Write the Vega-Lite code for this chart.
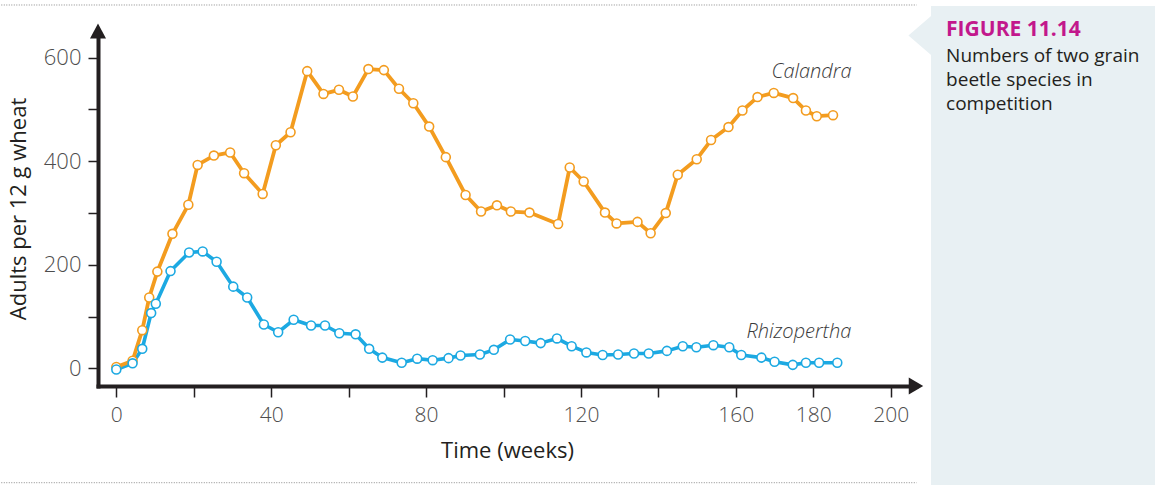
{
  "$schema": "https://vega.github.io/schema/vega-lite/v6.json",
  "width": 818,
  "height": 355,
  "autosize": {"type": "none"},
  "padding": {"left": 98, "top": 31, "right": 239, "bottom": 99},
  "background": "white",
  "config": {"view": {"stroke": null}, "font": "Open Sans"},
  "datasets": {
    "beetles": [
      {"species": "Calandra", "week": 0, "adults": 3},
      {"species": "Calandra", "week": 4.2, "adults": 15},
      {"species": "Calandra", "week": 6.7, "adults": 74},
      {"species": "Calandra", "week": 8.5, "adults": 137},
      {"species": "Calandra", "week": 10.6, "adults": 187},
      {"species": "Calandra", "week": 14.5, "adults": 260},
      {"species": "Calandra", "week": 18.6, "adults": 316},
      {"species": "Calandra", "week": 21.0, "adults": 393},
      {"species": "Calandra", "week": 25.2, "adults": 411},
      {"species": "Calandra", "week": 29.4, "adults": 417},
      {"species": "Calandra", "week": 33.0, "adults": 377},
      {"species": "Calandra", "week": 37.8, "adults": 337},
      {"species": "Calandra", "week": 41.2, "adults": 431},
      {"species": "Calandra", "week": 45.0, "adults": 456},
      {"species": "Calandra", "week": 49.3, "adults": 574},
      {"species": "Calandra", "week": 53.5, "adults": 530},
      {"species": "Calandra", "week": 57.5, "adults": 538},
      {"species": "Calandra", "week": 61.1, "adults": 525},
      {"species": "Calandra", "week": 65.1, "adults": 578},
      {"species": "Calandra", "week": 69.1, "adults": 576},
      {"species": "Calandra", "week": 73.0, "adults": 540},
      {"species": "Calandra", "week": 76.7, "adults": 512},
      {"species": "Calandra", "week": 80.8, "adults": 467},
      {"species": "Calandra", "week": 85.1, "adults": 408},
      {"species": "Calandra", "week": 90.2, "adults": 335},
      {"species": "Calandra", "week": 94.2, "adults": 303},
      {"species": "Calandra", "week": 98.3, "adults": 315},
      {"species": "Calandra", "week": 101.9, "adults": 303},
      {"species": "Calandra", "week": 106.7, "adults": 301},
      {"species": "Calandra", "week": 114.1, "adults": 279},
      {"species": "Calandra", "week": 117.1, "adults": 388},
      {"species": "Calandra", "week": 120.7, "adults": 361},
      {"species": "Calandra", "week": 126.2, "adults": 301},
      {"species": "Calandra", "week": 129.2, "adults": 280},
      {"species": "Calandra", "week": 134.6, "adults": 283},
      {"species": "Calandra", "week": 138.0, "adults": 261},
      {"species": "Calandra", "week": 141.9, "adults": 300},
      {"species": "Calandra", "week": 145.0, "adults": 374},
      {"species": "Calandra", "week": 149.9, "adults": 404},
      {"species": "Calandra", "week": 153.6, "adults": 441},
      {"species": "Calandra", "week": 158.1, "adults": 466},
      {"species": "Calandra", "week": 161.7, "adults": 498},
      {"species": "Calandra", "week": 165.6, "adults": 524},
      {"species": "Calandra", "week": 169.8, "adults": 532},
      {"species": "Calandra", "week": 174.8, "adults": 522},
      {"species": "Calandra", "week": 178.1, "adults": 498},
      {"species": "Calandra", "week": 180.9, "adults": 487},
      {"species": "Calandra", "week": 185.1, "adults": 489},
      {"species": "Rhizopertha", "week": 0, "adults": -2},
      {"species": "Rhizopertha", "week": 4.2, "adults": 10},
      {"species": "Rhizopertha", "week": 6.7, "adults": 38},
      {"species": "Rhizopertha", "week": 9.0, "adults": 107},
      {"species": "Rhizopertha", "week": 10.2, "adults": 125},
      {"species": "Rhizopertha", "week": 14.0, "adults": 188},
      {"species": "Rhizopertha", "week": 18.8, "adults": 224},
      {"species": "Rhizopertha", "week": 22.3, "adults": 226},
      {"species": "Rhizopertha", "week": 25.9, "adults": 206},
      {"species": "Rhizopertha", "week": 30.2, "adults": 158},
      {"species": "Rhizopertha", "week": 33.8, "adults": 137},
      {"species": "Rhizopertha", "week": 38.1, "adults": 85},
      {"species": "Rhizopertha", "week": 41.8, "adults": 70},
      {"species": "Rhizopertha", "week": 45.8, "adults": 94},
      {"species": "Rhizopertha", "week": 50.3, "adults": 83},
      {"species": "Rhizopertha", "week": 53.9, "adults": 83},
      {"species": "Rhizopertha", "week": 57.6, "adults": 68},
      {"species": "Rhizopertha", "week": 61.8, "adults": 66},
      {"species": "Rhizopertha", "week": 65.3, "adults": 38},
      {"species": "Rhizopertha", "week": 68.7, "adults": 21},
      {"species": "Rhizopertha", "week": 73.7, "adults": 11},
      {"species": "Rhizopertha", "week": 77.7, "adults": 19},
      {"species": "Rhizopertha", "week": 81.7, "adults": 16},
      {"species": "Rhizopertha", "week": 85.8, "adults": 20},
      {"species": "Rhizopertha", "week": 88.9, "adults": 25},
      {"species": "Rhizopertha", "week": 93.9, "adults": 27},
      {"species": "Rhizopertha", "week": 97.5, "adults": 36},
      {"species": "Rhizopertha", "week": 101.7, "adults": 56},
      {"species": "Rhizopertha", "week": 105.6, "adults": 53},
      {"species": "Rhizopertha", "week": 109.6, "adults": 49},
      {"species": "Rhizopertha", "week": 113.8, "adults": 58},
      {"species": "Rhizopertha", "week": 117.6, "adults": 43},
      {"species": "Rhizopertha", "week": 121.4, "adults": 31},
      {"species": "Rhizopertha", "week": 125.6, "adults": 26},
      {"species": "Rhizopertha", "week": 129.6, "adults": 27},
      {"species": "Rhizopertha", "week": 133.7, "adults": 29},
      {"species": "Rhizopertha", "week": 137.5, "adults": 29},
      {"species": "Rhizopertha", "week": 142.2, "adults": 34},
      {"species": "Rhizopertha", "week": 146.3, "adults": 43},
      {"species": "Rhizopertha", "week": 149.8, "adults": 41},
      {"species": "Rhizopertha", "week": 154.2, "adults": 45},
      {"species": "Rhizopertha", "week": 158.3, "adults": 41},
      {"species": "Rhizopertha", "week": 161.4, "adults": 26},
      {"species": "Rhizopertha", "week": 166.6, "adults": 21},
      {"species": "Rhizopertha", "week": 170.0, "adults": 13},
      {"species": "Rhizopertha", "week": 174.7, "adults": 7},
      {"species": "Rhizopertha", "week": 178.1, "adults": 11},
      {"species": "Rhizopertha", "week": 181.5, "adults": 11},
      {"species": "Rhizopertha", "week": 186.2, "adults": 11}
    ]
  },
  "layer": [
    {
      "description": "Rhizopertha line, which also carries both axes",
      "data": {"name": "beetles"},
      "transform": [{"filter": "datum.species === 'Rhizopertha'"}],
      "mark": {"type": "line", "strokeWidth": 3.6, "strokeJoin": "round", "strokeCap": "round", "color": "#1CA9E2"},
      "encoding": {
        "x": {
          "field": "week", "type": "quantitative",
          "scale": {"domain": [-4.73, 206.53], "nice": false, "zero": false},
          "axis": {
            "title": "Time (weeks)",
            "values": [0, 20, 40, 60, 80, 100, 120, 140, 160, 180, 200],
            "labelExpr": "indexof([0, 40, 80, 120, 160, 180, 200], datum.value) >= 0 ? datum.label : ''",
            "grid": false,
            "domainColor": "#231F20", "domainWidth": 4, "domainCap": "square",
            "tickColor": "#231F20", "tickWidth": 1.5, "tickSize": 11,
            "labelFont": "Open Sans", "labelFontSize": 21, "labelFontWeight": 300, "labelColor": "#4D4D4D",
            "labelPadding": 7, "labelFlush": false, "labelOverlap": false, "labelBound": false,
            "titleFont": "Open Sans", "titleFontSize": 22, "titleFontWeight": "normal", "titleColor": "#231F20",
            "titlePadding": 15
          }
        },
        "y": {
          "field": "adults", "type": "quantitative",
          "scale": {"domain": [-33.8, 651.5], "nice": false, "zero": false},
          "axis": {
            "title": "Adults per 12 g wheat",
            "values": [0, 100, 200, 300, 400, 500, 600],
            "labelExpr": "datum.value % 200 === 0 ? datum.label : ''",
            "grid": false,
            "domainColor": "#231F20", "domainWidth": 4, "domainCap": "square",
            "tickColor": "#231F20", "tickWidth": 1.5, "tickSize": 10,
            "labelFont": "Open Sans", "labelFontSize": 22, "labelFontWeight": 300, "labelColor": "#4D4D4D",
            "labelPadding": 7, "labelFlush": false, "labelOverlap": false, "labelBound": false,
            "titleFont": "Open Sans", "titleFontSize": 22, "titleFontWeight": "normal", "titleColor": "#231F20",
            "titlePadding": 13
          }
        }
      }
    },
    {
      "description": "caption panel background",
      "data": {"values": [{}]},
      "mark": {"type": "rect", "fill": "#E8F0F3"},
      "encoding": {
        "x": {"datum": 210.4, "type": "quantitative"},
        "x2": {"datum": 275},
        "y": {"datum": 699.8, "type": "quantitative"},
        "y2": {"datum": -250}
      }
    },
    {
      "description": "caption panel pointer",
      "data": {"values": [{}]},
      "mark": {"type": "point", "shape": "M0.58,-1L-0.58,0L0.58,1Z", "filled": true, "fill": "#E8F0F3", "opacity": 1, "size": 1521, "strokeWidth": 0},
      "encoding": {
        "x": {"datum": 207.5, "type": "quantitative"},
        "y": {"datum": 642.8, "type": "quantitative"}
      }
    },
    {
      "description": "dotted rule above the figure",
      "data": {"values": [{}]},
      "mark": {"type": "rule", "color": "#8a8a8a", "strokeWidth": 1, "strokeDash": [1, 1.5]},
      "encoding": {
        "x": {"datum": -31, "type": "quantitative"},
        "x2": {"datum": 206.7},
        "y": {"datum": 701.7, "type": "quantitative"}
      }
    },
    {
      "description": "dotted rule below the figure",
      "data": {"values": [{}]},
      "mark": {"type": "rule", "color": "#8a8a8a", "strokeWidth": 1, "strokeDash": [1, 1.5]},
      "encoding": {
        "x": {"datum": -31, "type": "quantitative"},
        "x2": {"datum": 206.7},
        "y": {"datum": -220.5, "type": "quantitative"}
      }
    },
    {
      "description": "figure number",
      "data": {"values": [{}]},
      "mark": {"type": "text", "text": "FIGURE 11.14", "font": "Open Sans", "fontWeight": "bold", "fontSize": 21, "color": "#C2188C", "align": "left", "baseline": "alphabetic"},
      "encoding": {
        "x": {"datum": 214.3, "type": "quantitative"},
        "y": {"datum": 640.9, "type": "quantitative"}
      }
    },
    {
      "description": "figure caption",
      "data": {"values": [{}]},
      "mark": {"type": "text", "text": ["Numbers of two grain", "beetle species in", "competition"], "font": "Open Sans", "fontSize": 19, "lineHeight": 24.2, "color": "#231F20", "align": "left", "baseline": "alphabetic"},
      "encoding": {
        "x": {"datum": 214.3, "type": "quantitative"},
        "y": {"datum": 592, "type": "quantitative"}
      }
    },
    {
      "description": "Calandra line",
      "data": {"name": "beetles"},
      "transform": [{"filter": "datum.species === 'Calandra'"}],
      "mark": {"type": "line", "strokeWidth": 3.8, "strokeJoin": "round", "strokeCap": "round", "color": "#F39C1F"},
      "encoding": {
        "x": {"field": "week", "type": "quantitative"},
        "y": {"field": "adults", "type": "quantitative"}
      }
    },
    {
      "description": "Calandra samples",
      "data": {"name": "beetles"},
      "transform": [{"filter": "datum.species === 'Calandra'"}],
      "mark": {"type": "point", "shape": "circle", "filled": true, "fill": "white", "stroke": "#F39C1F", "strokeWidth": 1.6, "size": 80, "opacity": 1},
      "encoding": {
        "x": {"field": "week", "type": "quantitative"},
        "y": {"field": "adults", "type": "quantitative"}
      }
    },
    {
      "description": "Rhizopertha samples",
      "data": {"name": "beetles"},
      "transform": [{"filter": "datum.species === 'Rhizopertha'"}],
      "mark": {"type": "point", "shape": "circle", "filled": true, "fill": "white", "stroke": "#1CA9E2", "strokeWidth": 1.6, "size": 80, "opacity": 1},
      "encoding": {
        "x": {"field": "week", "type": "quantitative"},
        "y": {"field": "adults", "type": "quantitative"}
      }
    },
    {
      "description": "Calandra series label, set above its last sample",
      "data": {"name": "beetles"},
      "transform": [
        {"filter": "datum.species === 'Calandra'"},
        {"joinaggregate": [{"op": "max", "field": "week", "as": "lastWeek"}]},
        {"filter": "datum.week === datum.lastWeek"}
      ],
      "mark": {"type": "text", "font": "Open Sans", "fontStyle": "italic", "fontWeight": 300, "fontSize": 20, "color": "#3A3A3A", "align": "right", "baseline": "alphabetic", "dx": 18.5, "dy": -37},
      "encoding": {
        "x": {"field": "week", "type": "quantitative"},
        "y": {"field": "adults", "type": "quantitative"},
        "text": {"field": "species"}
      }
    },
    {
      "description": "Rhizopertha series label, set above its last sample",
      "data": {"name": "beetles"},
      "transform": [
        {"filter": "datum.species === 'Rhizopertha'"},
        {"joinaggregate": [{"op": "max", "field": "week", "as": "lastWeek"}]},
        {"filter": "datum.week === datum.lastWeek"}
      ],
      "mark": {"type": "text", "font": "Open Sans", "fontStyle": "italic", "fontWeight": 300, "fontSize": 20, "color": "#3A3A3A", "align": "right", "baseline": "alphabetic", "dx": 14, "dy": -24.7},
      "encoding": {
        "x": {"field": "week", "type": "quantitative"},
        "y": {"field": "adults", "type": "quantitative"},
        "text": {"field": "species"}
      }
    },
    {
      "description": "arrowhead closing the time axis",
      "data": {"values": [{}]},
      "mark": {"type": "point", "shape": "M-0.85,-1L0.85,0L-0.85,1Z", "filled": true, "fill": "#231F20", "opacity": 1, "size": 289, "strokeWidth": 0},
      "encoding": {
        "x": {"datum": 206.53, "type": "quantitative"},
        "y": {"datum": -33.8, "type": "quantitative"}
      }
    },
    {
      "description": "arrowhead closing the adults axis",
      "data": {"values": [{}]},
      "mark": {"type": "point", "shape": "M-1,0.94L0,-0.94L1,0.94Z", "filled": true, "fill": "#231F20", "opacity": 1, "size": 256, "strokeWidth": 0},
      "encoding": {
        "x": {"datum": -4.73, "type": "quantitative"},
        "y": {"datum": 651.5, "type": "quantitative"}
      }
    }
  ]
}
